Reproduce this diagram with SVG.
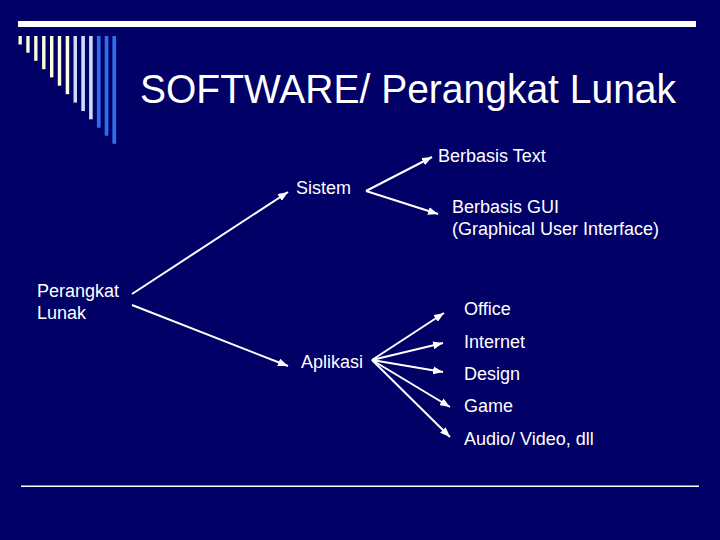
<svg xmlns="http://www.w3.org/2000/svg" width="720" height="540" viewBox="0 0 720 540">
<defs>
<marker id="ah" viewBox="0 0 10 8" refX="10" refY="4" markerWidth="10" markerHeight="8" markerUnits="userSpaceOnUse" orient="auto">
<path d="M0,0 L10,4 L0,8 Z" fill="#ffffff"/>
</marker>
</defs>
<style>
.t{font-family:"Liberation Sans",Arial,sans-serif;fill:#ffffff;font-size:18px}
.c{stroke:#ffffff;stroke-width:2;fill:none;marker-end:url(#ah)}
.y{fill:#ffffdd}.l{fill:#ccdcfa}.b{fill:#2f6fe8}
</style>
<rect width="720" height="540" fill="#000066"/>
<g id="decor">
<rect x="18" y="21" width="678" height="6" fill="#ffffff"/>
<rect class="y" x="18.5" y="36" width="3.3" height="8.5"/>
<rect class="y" x="26.3" y="36" width="3.3" height="16.7"/>
<rect class="y" x="34.2" y="36" width="3.3" height="24.8"/>
<rect class="y" x="42.1" y="36" width="3.4" height="33.2"/>
<rect class="y" x="50" y="36" width="3.4" height="41.4"/>
<rect class="y" x="57.8" y="36" width="3.4" height="49.7"/>
<rect class="y" x="65.7" y="36" width="3.5" height="58.2"/>
<rect class="l" x="73.5" y="36" width="3.5" height="66.6"/>
<rect class="l" x="81.3" y="36" width="3.6" height="75"/>
<rect class="l" x="89.1" y="36" width="3.6" height="83.3"/>
<rect class="b" x="96.9" y="36" width="3.7" height="91.7"/>
<rect class="b" x="104.7" y="36" width="3.7" height="99.7"/>
<rect class="b" x="112.4" y="36" width="3.7" height="107.8"/>
<rect x="21" y="485.5" width="678" height="1.5" fill="#ffffff"/>
</g>
<text id="title" class="t" x="140" y="103" style="font-size:41px" textLength="536" lengthAdjust="spacingAndGlyphs">SOFTWARE/ Perangkat Lunak</text>
<g id="connectors">
<line class="c" x1="132" y1="294" x2="288" y2="192"/>
<line class="c" x1="132" y1="305" x2="288" y2="366"/>
<line class="c" x1="366" y1="191" x2="432" y2="157"/>
<line class="c" x1="366" y1="191" x2="438" y2="214"/>
<line class="c" x1="372" y1="360" x2="444" y2="313"/>
<line class="c" x1="372" y1="360" x2="443" y2="343"/>
<line class="c" x1="372" y1="360" x2="443" y2="372"/>
<line class="c" x1="372" y1="360" x2="450" y2="407"/>
<line class="c" x1="372" y1="360" x2="450" y2="437"/>
</g>
<g id="perangkat"><text class="t" x="37" y="297">Perangkat</text><text class="t" x="37" y="319">Lunak</text></g>
<g id="sistem"><text class="t" x="296" y="194">Sistem</text></g>
<g id="aplikasi"><text class="t" x="301" y="368">Aplikasi</text></g>
<g id="berbasis-text"><text class="t" x="438" y="162">Berbasis Text</text></g>
<g id="berbasis-gui"><text class="t" x="452" y="213">Berbasis GUI</text><text class="t" x="452" y="235">(Graphical User Interface)</text></g>
<g id="office"><text class="t" x="464" y="315">Office</text></g>
<g id="internet"><text class="t" x="464" y="348">Internet</text></g>
<g id="design"><text class="t" x="464" y="380">Design</text></g>
<g id="game"><text class="t" x="464" y="412">Game</text></g>
<g id="audio"><text class="t" x="464" y="445">Audio/ Video, dll</text></g>
</svg>
